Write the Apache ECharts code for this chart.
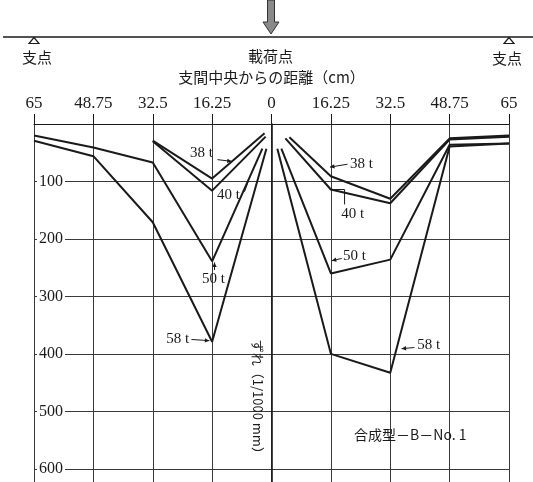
<!DOCTYPE html>
<html>
<head>
<meta charset="utf-8">
<script src="https://cdn.jsdelivr.net/npm/echarts@6/dist/echarts.min.js"></script>
<style>
html,body{margin:0;padding:0;background:#fff;}
#c{width:533px;height:482px;}
</style>
</head>
<body>
<div id="c"></div>
<script>
// Distance from mid-span (cm) and slip (1/1000 mm) tick values
const xTickValues = [-65, -48.75, -32.5, -16.25, 0, 16.25, 32.5, 48.75, 65];
const yTickValues = [100, 200, 300, 400, 500, 600];

// Slip profiles per load, [distance from mid-span (cm), slip]
const left38 = [[-32.5, 29], [-16.25, 95], [-1.9, 16]];
const left40 = [[-32.5, 30], [-16.25, 116], [-1.6, 22]];
const left50 = [[-65, 20], [-48.75, 41], [-32.5, 67], [-16.25, 239], [-2.5, 43]];
const left58 = [[-65, 29], [-48.75, 56], [-32.5, 171], [-16.25, 379], [-1.4, 43]];

const right38 = [[4.9, 23], [16.25, 91], [32.5, 130], [48.75, 25], [65, 20]];
const right40 = [[3.8, 25], [16.25, 114], [32.5, 138], [48.75, 27], [65, 22]];
const right50 = [[2.7, 43], [16.25, 260], [32.5, 236], [48.75, 36], [65, 34]];
const right58 = [[1.6, 43], [16.25, 400], [32.5, 433], [48.75, 39], [65, 34]];

const seriesList = [
  ['38t', left38], ['40t', left40], ['50t', left50], ['58t', left58],
  ['38t', right38], ['40t', right40], ['50t', right50], ['58t', right58]
];

// Load labels: text anchor and leader path, in data space
const loadLabels = [
  { text: '38 t', at: [-19.2, 51], path: [[-14.8, 62], [-10.9, 65]], head: true },
  { text: '40 t', at: [-11.8, 124], path: [[-7.4, 118], [-6.3, 99]], head: false },
  { text: '50 t', at: [-15.9, 270], path: [[-15.6, 254], [-15.6, 241]], head: true },
  { text: '58 t', at: [-25.7, 375], path: [[-21.9, 375], [-17.0, 377]], head: true },
  { text: '38 t', at: [24.6, 70], path: [[20.8, 70], [16.0, 75]], head: true },
  { text: '40 t', at: [22.2, 156], path: [[20.0, 140], [20.0, 114], [16.8, 114]], head: false },
  { text: '50 t', at: [22.7, 229], path: [[19.2, 234], [16.5, 238]], head: true },
  { text: '58 t', at: [43.0, 384], path: [[39.1, 389], [35.6, 391]], head: true }
];

const SERIF = '"Liberation Serif","DejaVu Serif",serif';
const JP = '"Noto Sans CJK JP","Noto Sans CJK SC",sans-serif';
const INK = '#1a1a1a';
const GRIDC = '#3a3a3a';

const chart = echarts.init(document.getElementById('c'), null, { renderer: 'canvas' });

chart.setOption({
  animation: false,
  backgroundColor: '#fff',
  grid: { left: 34, right: 24, top: 124, bottom: 0, containLabel: false },
  xAxis: {
    type: 'value',
    position: 'top',
    min: -65, max: 65, interval: 16.25,
    name: '支間中央からの距離（cm）',
    nameLocation: 'middle',
    nameGap: 39,
    nameTextStyle: { fontFamily: JP, fontSize: 15, color: INK },
    axisLine: { show: true, onZero: false, lineStyle: { color: INK, width: 1.2 } },
    axisTick: { show: true, length: 10, inside: false, lineStyle: { color: INK, width: 1 } },
    axisLabel: {
      margin: 12, fontFamily: SERIF, fontSize: 17, color: INK,
      formatter: v => String(Math.abs(v))
    },
    splitLine: { show: true, lineStyle: { color: GRIDC, width: 1 } }
  },
  yAxis: {
    type: 'value',
    inverse: true,
    min: 0, max: 623, interval: 100,
    axisLine: { show: true, onZero: true, lineStyle: { color: INK, width: 1.6 } },
    axisTick: { show: false },
    axisLabel: {
      inside: true, margin: 3, fontFamily: SERIF, fontSize: 16, color: INK,
      showMinLabel: false, showMaxLabel: false,
      backgroundColor: '#fff', padding: [1, 2],
      formatter: v => (yTickValues.indexOf(v) >= 0 ? String(v) : '')
    },
    splitLine: { show: true, showMaxLine: false, lineStyle: { color: GRIDC, width: 1 } }
  },
  series: seriesList.map(([name, data]) => ({
    name: name,
    type: 'line',
    data: data,
    symbol: 'none',
    z: 5,
    lineStyle: { color: INK, width: 2 }
  }))
});

// Annotation layer placed through the chart's own coordinate conversion
const P = (x, y) => chart.convertToPixel({ gridIndex: 0 }, [x, y]);

function textEl(text, x, y, font, extra) {
  return Object.assign({
    type: 'text', z: 20, x: x, y: y,
    style: {
      text: text, font: font, fill: INK,
      align: 'center', verticalAlign: 'middle',
      textAlign: 'center', textVerticalAlign: 'middle'
    }
  }, extra || {});
}

function arrowHead(p0, p1, size) {
  const ang = Math.atan2(p1[1] - p0[1], p1[0] - p0[0]);
  const s = size || 5;
  const a1 = ang + Math.PI - 0.45, a2 = ang + Math.PI + 0.45;
  return {
    type: 'polygon', z: 21,
    shape: { points: [p1, [p1[0] + s * Math.cos(a1), p1[1] + s * Math.sin(a1)], [p1[0] + s * Math.cos(a2), p1[1] + s * Math.sin(a2)]] },
    style: { fill: INK }
  };
}

const elements = [];

// Load labels with leaders
loadLabels.forEach(l => {
  const p = P(l.at[0], l.at[1]);
  elements.push(textEl(l.text, p[0], p[1], '15px ' + SERIF));
  const pts = l.path.map(q => P(q[0], q[1]));
  elements.push({ type: 'polyline', z: 21, shape: { points: pts }, style: { stroke: INK, lineWidth: 1, fill: null } });
  if (l.head) elements.push(arrowHead(pts[pts.length - 2], pts[pts.length - 1], 5));
});

// Specimen name and slip axis title
const pName = P(38.0, 541);
elements.push(textEl('合成型－B－No. 1', pName[0], pName[1], '14px ' + JP));
const pAxis = P(-3.8, 480);
elements.push(textEl('ずれ（1/1000 mm）', pAxis[0], pAxis[1], '13px ' + JP, { rotation: -Math.PI / 2 }));

// Beam, supports and load point above the plot
const xc = P(0, 0)[0];
const xl = P(-65, 0)[0];
const xr = P(65, 0)[0];
const beamY = 37;
elements.push({ type: 'line', z: 20, shape: { x1: 3, y1: beamY, x2: 533, y2: beamY }, style: { stroke: INK, lineWidth: 1.5 } });
[xl, xr].forEach(x => {
  elements.push({
    type: 'polygon', z: 20,
    shape: { points: [[x, beamY + 0.5], [x - 5, beamY + 6.5], [x + 5, beamY + 6.5]] },
    style: { fill: '#fff', stroke: INK, lineWidth: 1.2 }
  });
});
elements.push(textEl('支点', xl + 3, 57, '15px ' + JP));
elements.push(textEl('支点', xr - 2, 58, '15px ' + JP));
elements.push(textEl('載荷点', xc - 1, 56, '15px ' + JP));
// Load arrow
elements.push({
  type: 'polygon', z: 22,
  shape: { points: [[xc - 4, 0], [xc + 3, 0], [xc + 3, 22], [xc + 7.5, 22], [xc - 0.5, 34], [xc - 8.5, 22], [xc - 4, 22]] },
  style: { fill: '#8a8a8a', stroke: '#333', lineWidth: 1 }
});

chart.setOption({ graphic: { elements: elements } });
</script>
</body>
</html>
